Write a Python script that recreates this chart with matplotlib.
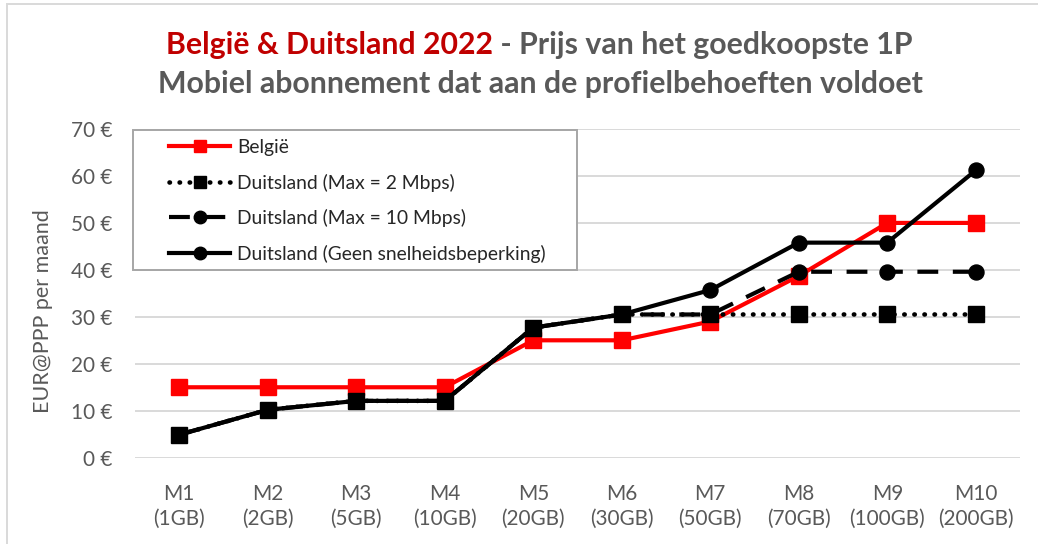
import numpy as np
import matplotlib
matplotlib.use("Agg")
import matplotlib.pyplot as plt
from matplotlib.patches import Rectangle

# ---------------- data ----------------
categories = ["M1\n(1GB)", "M2\n(2GB)", "M3\n(5GB)", "M4\n(10GB)", "M5\n(20GB)",
              "M6\n(30GB)", "M7\n(50GB)", "M8\n(70GB)", "M9\n(100GB)", "M10\n(200GB)"]
belgie = [15, 15, 15, 15, 25, 25, 29, 38.7, 50, 50]
de_max2 = [4.9, 10.2, 12.1, 12.1, 27.7, 30.5, 30.5, 30.5, 30.5, 30.5]
de_max10 = [4.9, 10.2, 12.1, 12.1, 27.7, 30.5, 30.5, 39.6, 39.6, 39.6]
de_geen = [4.9, 10.2, 12.1, 12.1, 27.7, 30.5, 35.7, 45.8, 45.8, 61.2]
y_ticks = [0, 10, 20, 30, 40, 50, 60, 70]
series_labels = ["België", "Duitsland (Max = 2 Mbps)", "Duitsland (Max = 10 Mbps)",
                 "Duitsland (Geen snelheidsbeperking)"]
title_red = "België & Duitsland 2022"
title_gray = " - Prijs van het goedkoopste 1P"
title_line2 = "Mobiel abonnement dat aan de profielbehoeften voldoet"
y_label = "EUR@PPP per maand"

# ---------------- style ----------------
W, H = 1038, 544
FONT = "Lato"
GRAY = "#595959"
RED_T = "#C00000"
plt.rcParams["font.family"] = [FONT, "DejaVu Sans"]

fig = plt.figure(figsize=(W / 100, H / 100), dpi=100)
fig.patch.set_facecolor("white")
renderer = fig.canvas.get_renderer()


def px(x, y):
    return x / W, 1 - y / H


def fit_size(text, target_px, weight="normal"):
    t = fig.text(0, 0, text, fontsize=10, fontweight=weight)
    w = t.get_window_extent(renderer).width
    t.remove()
    return 10 * target_px / w


# axes (plot area)
left, right, top, bottom = 135, 1020, 129, 457.7
ax = fig.add_axes([left / W, 1 - bottom / H, (right - left) / W, (bottom - top) / H])
x = np.arange(len(categories))
ax.set_xlim(-0.5, len(categories) - 0.5)
ax.set_ylim(0, 70)
for s in ax.spines.values():
    s.set_visible(False)
ax.set_yticks(y_ticks)
ax.yaxis.grid(True, color="#D9D9D9", lw=1.4)
ax.set_axisbelow(True)
ax.tick_params(length=0)

tick_fs = fit_size("(200GB)", 76)
ytick_fs = fit_size("70 €", 41)
ax.set_xticks(x)
ax.set_xticklabels(categories, fontsize=tick_fs, color=GRAY, linespacing=1.3)
ax.set_yticklabels([f"{v} €" for v in y_ticks], fontsize=ytick_fs, color=GRAY)
ax.tick_params(axis="x", pad=19)
ax.tick_params(axis="y", pad=16)

lw = 3.0
ax.plot(x, belgie, color="#FF0000", lw=lw, marker="s", ms=11.5, zorder=3,
        solid_joinstyle="round", label=series_labels[0])
ax.plot(x, de_max2, color="black", lw=lw + 0.3, marker="s", ms=11.5, zorder=4,
        linestyle=(0, (0.1, 2.1)), dash_capstyle="round", label=series_labels[1])
ax.plot(x, de_max10, color="black", lw=lw, marker="o", ms=10.8, zorder=5,
        linestyle=(0, (5, 3.5)), dash_capstyle="butt", label=series_labels[2])
ax.plot(x, de_geen, color="black", lw=lw, marker="o", ms=10.8, zorder=6,
        solid_joinstyle="round", label=series_labels[3])

# y-axis label
yl_fs = fit_size(y_label, 203)
fig.text(*px(43, 311), y_label, rotation=90, ha="center", va="center",
         fontsize=yl_fs, color=GRAY)

# title
title_fs = fit_size(title_line2, 766, weight="bold")
t_red = fig.text(0, 0, title_red, fontsize=title_fs, fontweight="bold", color=RED_T)
t_gray = fig.text(0, 0, title_gray, fontsize=title_fs, fontweight="bold", color=GRAY)
w_red = t_red.get_window_extent(renderer).width
w_gray = t_gray.get_window_extent(renderer).width
cx = 539.5
x0 = cx - (w_red + w_gray) / 2
t_red.set_position(px(x0, 54))
t_red.set_va("baseline")
t_gray.set_position(px(x0 + w_red, 54))
t_gray.set_va("baseline")
fig.text(*px(540, 93), title_line2, fontsize=title_fs, fontweight="bold",
         color=GRAY, ha="center", va="baseline")

# legend box (white, covers gridlines)
fig.patches.append(Rectangle(px(133, 270), (577 - 133) / W, (270 - 130) / H,
                             transform=fig.transFigure, facecolor="white",
                             edgecolor="#A6A6A6", lw=1.4, zorder=1))
leg_fs = fit_size(series_labels[3], 310)
fs_px = leg_fs * 100 / 72
handles, labels = ax.get_legend_handles_labels()
leg = fig.legend(handles, labels, loc="upper left",
                 bbox_to_anchor=px(169, 139), bbox_transform=fig.transFigure,
                 frameon=False, fontsize=leg_fs, labelcolor="black",
                 handlelength=61 / fs_px, handletextpad=7 / fs_px,
                 labelspacing=0.91, borderpad=0, borderaxespad=0)
leg.set_zorder(5)
for t in leg.get_texts():
    t.set_color("#262626")
for h in leg.legend_handles:
    h.set_markersize(9)

# chart outer border
fig.patches.append(Rectangle(px(7, 600), 1.2, (600 - 4) / H, transform=fig.transFigure,
                             fill=False, edgecolor="#D9D9D9", lw=1.4, zorder=1))

fig.savefig("out.png", dpi=100)
